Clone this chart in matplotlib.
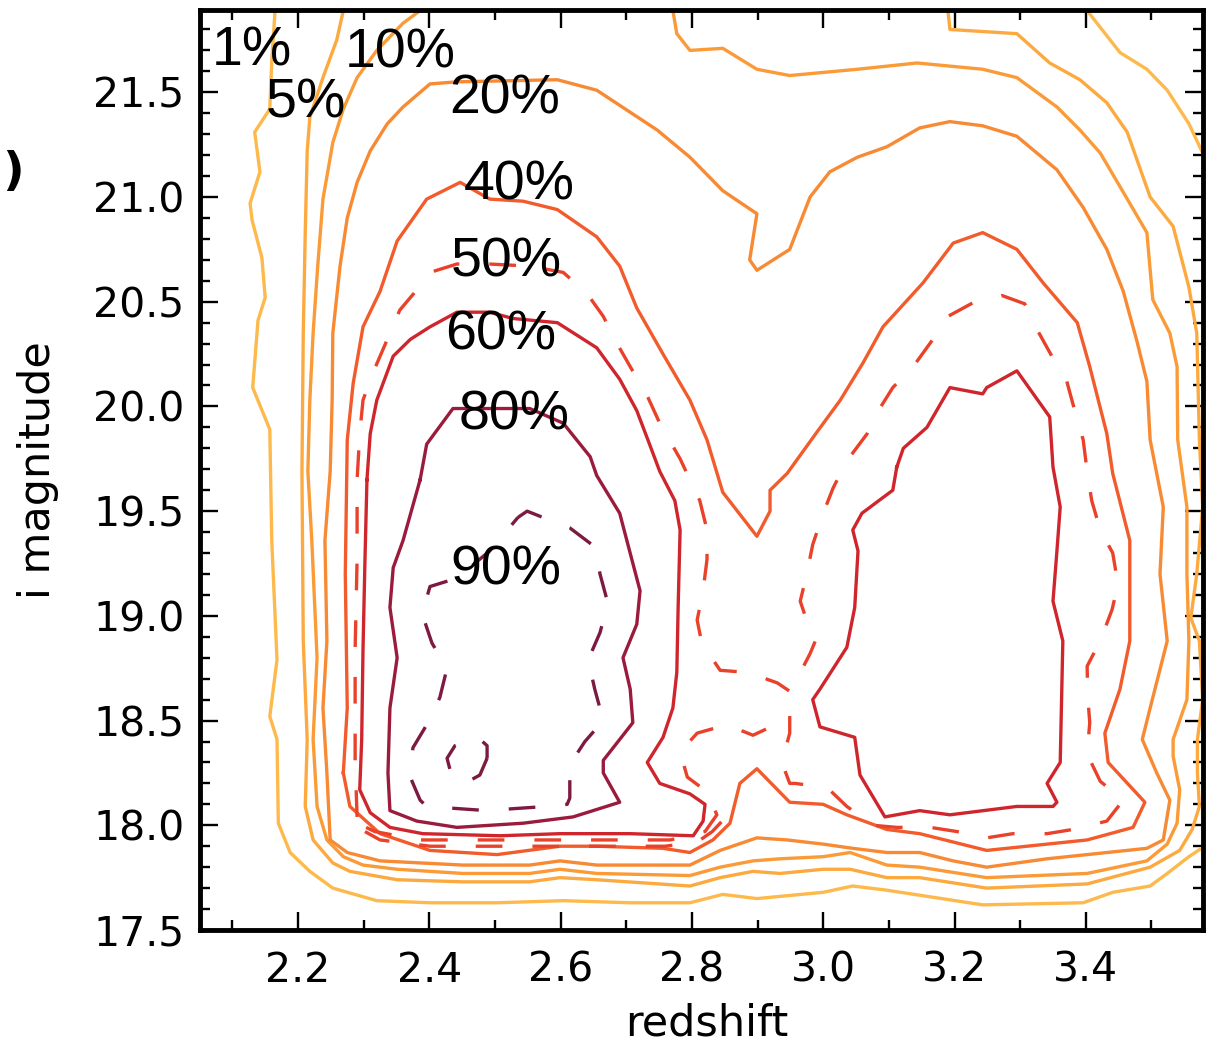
import matplotlib
matplotlib.use("Agg")
import matplotlib.pyplot as plt
from matplotlib.ticker import MultipleLocator

# completeness contours as (redshift, i magnitude) points
c01_a = [(2.165, 21.89), (2.160, 21.65), (2.157, 21.42), (2.134, 21.31), (2.142, 21.12), (2.127, 20.97),
         (2.130, 20.89), (2.145, 20.71), (2.150, 20.52), (2.139, 20.41), (2.131, 20.09), (2.157, 19.89),
         (2.160, 19.36), (2.168, 18.79), (2.157, 18.52), (2.168, 18.41), (2.170, 18.01), (2.188, 17.87),
         (2.218, 17.78), (2.253, 17.70), (2.320, 17.64), (2.401, 17.63), (2.503, 17.63), (2.604, 17.64),
         (2.706, 17.63), (2.797, 17.63), (2.847, 17.67), (2.899, 17.65), (3.000, 17.68), (3.045, 17.71),
         (3.097, 17.69), (3.243, 17.62), (3.396, 17.63), (3.441, 17.68), (3.498, 17.71), (3.524, 17.77),
         (3.557, 17.85), (3.581, 17.90)]
c01_b = [(3.402, 21.89), (3.452, 21.69), (3.493, 21.61), (3.524, 21.51), (3.557, 21.35), (3.581, 21.19)]

c05 = [(2.269, 21.89), (2.259, 21.75), (2.238, 21.57), (2.218, 21.38), (2.214, 21.22), (2.211, 20.83),
       (2.208, 20.35), (2.206, 19.69), (2.208, 18.88), (2.214, 18.41), (2.211, 18.09), (2.223, 17.93),
       (2.253, 17.82), (2.279, 17.78), (2.351, 17.74), (2.451, 17.73), (2.553, 17.73), (2.599, 17.75),
       (2.655, 17.74), (2.797, 17.71), (2.843, 17.75), (2.893, 17.78), (2.934, 17.77), (3.000, 17.79),
       (3.041, 17.79), (3.097, 17.75), (3.147, 17.75), (3.249, 17.70), (3.402, 17.72), (3.498, 17.80),
       (3.543, 17.88), (3.562, 17.98), (3.573, 18.09), (3.570, 18.25), (3.570, 18.41), (3.578, 18.60),
       (3.573, 18.88), (3.560, 18.99), (3.569, 19.20), (3.578, 19.52), (3.573, 19.84), (3.569, 20.35),
       (3.557, 20.57), (3.533, 20.86), (3.498, 21.00), (3.463, 21.31), (3.432, 21.45), (3.391, 21.56),
       (3.345, 21.64), (3.295, 21.78), (3.193, 21.80), (3.190, 21.89)]

c10 = [(2.386, 21.89), (2.360, 21.83), (2.320, 21.70), (2.290, 21.57), (2.269, 21.42), (2.253, 21.26),
       (2.238, 20.99), (2.230, 20.67), (2.223, 20.35), (2.218, 20.03), (2.215, 19.69), (2.221, 19.36),
       (2.229, 18.80), (2.223, 18.41), (2.229, 18.09), (2.244, 17.93), (2.269, 17.85), (2.299, 17.81),
       (2.351, 17.79), (2.451, 17.77), (2.553, 17.77), (2.599, 17.79), (2.655, 17.77), (2.797, 17.76),
       (2.843, 17.80), (2.893, 17.83), (2.934, 17.84), (3.000, 17.85), (3.041, 17.87), (3.097, 17.81),
       (3.147, 17.80), (3.249, 17.75), (3.402, 17.77), (3.493, 17.83), (3.524, 17.91), (3.539, 18.01),
       (3.543, 18.17), (3.533, 18.33), (3.533, 18.41), (3.554, 18.60), (3.557, 18.88), (3.554, 19.20),
       (3.554, 19.52), (3.540, 19.84), (3.539, 20.19), (3.528, 20.35), (3.502, 20.51), (3.493, 20.83),
       (3.452, 21.05), (3.422, 21.21), (3.391, 21.32), (3.356, 21.43), (3.295, 21.57), (3.243, 21.61),
       (3.143, 21.64), (3.052, 21.61), (2.949, 21.58), (2.899, 21.61), (2.847, 21.71), (2.797, 21.70),
       (2.777, 21.78), (2.771, 21.89)]

c20 = [(2.249, 17.93), (2.244, 18.25), (2.238, 18.56), (2.244, 18.88), (2.241, 19.36), (2.249, 19.69),
       (2.252, 20.03), (2.253, 20.35), (2.264, 20.67), (2.275, 20.90), (2.290, 21.07), (2.310, 21.22),
       (2.336, 21.35), (2.360, 21.43), (2.401, 21.54), (2.442, 21.55), (2.595, 21.56), (2.655, 21.51),
       (2.747, 21.32), (2.797, 21.19), (2.847, 21.03), (2.899, 20.92), (2.888, 20.70), (2.899, 20.65),
       (2.949, 20.75), (2.980, 21.00), (3.010, 21.12), (3.052, 21.19), (3.097, 21.24), (3.147, 21.33),
       (3.193, 21.36), (3.243, 21.34), (3.295, 21.29), (3.356, 21.13), (3.396, 20.95), (3.432, 20.75),
       (3.457, 20.55), (3.478, 20.31), (3.493, 20.12), (3.498, 19.84), (3.518, 19.52), (3.513, 19.20),
       (3.524, 18.88), (3.498, 18.56), (3.486, 18.41), (3.508, 18.25), (3.528, 18.12), (3.518, 17.93),
       (3.493, 17.89), (3.402, 17.86), (3.341, 17.84), (3.249, 17.80), (3.198, 17.83), (3.147, 17.87),
       (3.097, 17.87), (3.045, 17.89), (3.000, 17.91), (2.945, 17.93), (2.899, 17.94), (2.843, 17.88),
       (2.797, 17.81), (2.655, 17.81), (2.599, 17.83), (2.553, 17.81), (2.451, 17.81), (2.325, 17.83),
       (2.275, 17.87), (2.249, 17.93)]

c40 = [(2.269, 18.25), (2.275, 18.56), (2.272, 19.20), (2.275, 19.84), (2.284, 20.11), (2.299, 20.38),
       (2.325, 20.55), (2.351, 20.79), (2.396, 20.99), (2.447, 21.07), (2.492, 20.99), (2.543, 20.98),
       (2.595, 20.94), (2.655, 20.81), (2.690, 20.67), (2.716, 20.47), (2.756, 20.25), (2.797, 20.03),
       (2.823, 19.84), (2.847, 19.59), (2.899, 19.38), (2.919, 19.50), (2.919, 19.60), (2.945, 19.68),
       (2.991, 19.88), (3.026, 20.03), (3.061, 20.21), (3.091, 20.38), (3.152, 20.59), (3.198, 20.78),
       (3.243, 20.83), (3.295, 20.75), (3.335, 20.59), (3.387, 20.40), (3.406, 20.19), (3.432, 19.87),
       (3.441, 19.68), (3.467, 19.36), (3.467, 18.88), (3.452, 18.65), (3.429, 18.44), (3.434, 18.30),
       (3.490, 18.11), (3.472, 17.99), (3.402, 17.93), (3.249, 17.88), (3.147, 17.96), (3.097, 17.98),
       (3.036, 18.05), (3.000, 18.10), (2.949, 18.11), (2.899, 18.27), (2.873, 18.20), (2.858, 18.01),
       (2.832, 17.93), (2.797, 17.87), (2.756, 17.89), (2.655, 17.90), (2.599, 17.90), (2.503, 17.86),
       (2.401, 17.88), (2.325, 17.96), (2.279, 18.09), (2.269, 18.25)]

c50_a = [(2.290, 18.04), (2.287, 18.31), (2.287, 18.84), (2.290, 19.27), (2.290, 19.65), (2.294, 19.87),
         (2.299, 20.03), (2.314, 20.16), (2.336, 20.32), (2.355, 20.46), (2.390, 20.59), (2.401, 20.64),
         (2.442, 20.68), (2.492, 20.68), (2.553, 20.67), (2.604, 20.64), (2.640, 20.54), (2.665, 20.43),
         (2.686, 20.30), (2.706, 20.19), (2.732, 20.05), (2.751, 19.92), (2.782, 19.75), (2.812, 19.55),
         (2.823, 19.41), (2.823, 19.27), (2.817, 19.12), (2.808, 18.98), (2.815, 18.87), (2.843, 18.74),
         (2.885, 18.73), (2.930, 18.68), (2.949, 18.64), (2.957, 18.68), (2.980, 18.82), (2.988, 18.88),
         (2.980, 18.93), (2.965, 19.07), (2.975, 19.20), (2.984, 19.34), (3.000, 19.49), (3.015, 19.61),
         (3.036, 19.74), (3.067, 19.87), (3.082, 19.97), (3.106, 20.09), (3.137, 20.19), (3.167, 20.32),
         (3.190, 20.43), (3.231, 20.50), (3.272, 20.53), (3.307, 20.49), (3.327, 20.36), (3.350, 20.23),
         (3.371, 20.12), (3.384, 19.97), (3.396, 19.84), (3.402, 19.69), (3.409, 19.55), (3.422, 19.41),
         (3.441, 19.30), (3.449, 19.15), (3.440, 19.03), (3.422, 18.88), (3.402, 18.76), (3.403, 18.61),
         (3.406, 18.49), (3.402, 18.34), (3.422, 18.21), (3.457, 18.12), (3.432, 18.02), (3.380, 17.98),
         (3.341, 17.96), (3.289, 17.96), (3.249, 17.94), (3.204, 17.97), (3.163, 17.99), (3.112, 17.99),
         (3.076, 18.00), (3.036, 18.09), (3.006, 18.18), (2.957, 18.20), (2.949, 18.20), (2.937, 18.30),
         (2.949, 18.44), (2.949, 18.53), (2.934, 18.49), (2.893, 18.43), (2.853, 18.48), (2.808, 18.44),
         (2.782, 18.35), (2.793, 18.23), (2.823, 18.16), (2.838, 18.05), (2.820, 17.97), (2.767, 17.93),
         (2.660, 17.93), (2.508, 17.93), (2.386, 17.93), (2.317, 17.97), (2.297, 18.00), (2.290, 18.04)]
c50_b = [(2.302, 17.97), (2.325, 17.93), (2.401, 17.90), (2.508, 17.90), (2.660, 17.90), (2.759, 17.90),
         (2.808, 17.92), (2.831, 17.97), (2.846, 18.02)]

c60_left = [(2.305, 19.65), (2.310, 19.87), (2.320, 20.03), (2.345, 20.24), (2.371, 20.32), (2.401, 20.38),
            (2.442, 20.45), (2.492, 20.45), (2.527, 20.42), (2.595, 20.40), (2.655, 20.28), (2.690, 20.13),
            (2.716, 19.98), (2.733, 19.84), (2.751, 19.69), (2.774, 19.55), (2.782, 19.41), (2.779, 19.04),
            (2.777, 18.73), (2.771, 18.56), (2.756, 18.42), (2.732, 18.30), (2.751, 18.20), (2.797, 18.15),
            (2.820, 18.10), (2.817, 18.02), (2.802, 17.95), (2.706, 17.96), (2.599, 17.96), (2.508, 17.95),
            (2.390, 17.96), (2.340, 17.99), (2.310, 18.06), (2.294, 18.17), (2.297, 18.41), (2.299, 18.84),
            (2.302, 19.27), (2.305, 19.65)]
c60_right = [(3.112, 19.71), (3.122, 19.80), (3.158, 19.90), (3.193, 20.09), (3.243, 20.06), (3.249, 20.09),
             (3.295, 20.17), (3.345, 19.95), (3.350, 19.71), (3.361, 19.52), (3.356, 19.31), (3.350, 19.07),
             (3.365, 18.88), (3.361, 18.30), (3.341, 18.20), (3.356, 18.11), (3.350, 18.09), (3.295, 18.09),
             (3.193, 18.05), (3.147, 18.07), (3.094, 18.04), (3.056, 18.24), (3.048, 18.42), (2.995, 18.47),
             (2.984, 18.60), (2.995, 18.65), (3.036, 18.85), (3.048, 19.04), (3.053, 19.31), (3.045, 19.41),
             (3.059, 19.49), (3.106, 19.60), (3.112, 19.71)]

c80 = [(2.386, 19.65), (2.396, 19.82), (2.436, 19.99), (2.492, 19.99), (2.553, 19.99), (2.604, 19.92),
       (2.645, 19.76), (2.655, 19.67), (2.690, 19.49), (2.721, 19.12), (2.716, 18.96), (2.695, 18.80),
       (2.706, 18.65), (2.710, 18.49), (2.665, 18.31), (2.665, 18.25), (2.690, 18.11), (2.619, 18.04),
       (2.543, 18.01), (2.442, 17.99), (2.381, 18.02), (2.340, 18.07), (2.337, 18.25), (2.340, 18.56),
       (2.351, 18.80), (2.340, 19.04), (2.345, 19.23), (2.360, 19.36), (2.386, 19.65)]

c90_outer = [(2.535, 19.47), (2.549, 19.50), (2.573, 19.47), (2.614, 19.42), (2.652, 19.33), (2.660, 19.20),
             (2.672, 19.06), (2.660, 18.92), (2.642, 18.79), (2.652, 18.65), (2.665, 18.50), (2.637, 18.40),
             (2.614, 18.29), (2.614, 18.13), (2.610, 18.10), (2.579, 18.09), (2.531, 18.08), (2.488, 18.07),
             (2.442, 18.08), (2.396, 18.09), (2.386, 18.12), (2.371, 18.23), (2.375, 18.37), (2.398, 18.49),
             (2.416, 18.61), (2.427, 18.75), (2.404, 18.87), (2.389, 19.01), (2.401, 19.14), (2.442, 19.18),
             (2.492, 19.31), (2.535, 19.47)]
c90_inner = [(2.488, 18.32), (2.477, 18.24), (2.454, 18.20), (2.432, 18.26), (2.427, 18.32), (2.439, 18.38),
             (2.474, 18.42), (2.488, 18.38), (2.488, 18.32)]

label_text = ["1%", "5%", "10%", "20%", "40%", "50%", "60%", "80%", "90%"]
label_x = [2.130, 2.212, 2.355, 2.515, 2.537, 2.517, 2.509, 2.529, 2.517]
label_y = [21.63, 21.38, 21.62, 21.40, 20.99, 20.62, 20.27, 19.89, 19.15]

x_ticks = [2.2, 2.4, 2.6, 2.8, 3.0, 3.2, 3.4]
y_ticks = [17.5, 18.0, 18.5, 19.0, 19.5, 20.0, 20.5, 21.0, 21.5]

# level -> (paths, colour, dashed)
levels = [
    ([c01_a, c01_b], "#fdb94b", False),
    ([c05], "#fcaa40", False),
    ([c10], "#fa9b38", False),
    ([c20], "#f78a33", False),
    ([c40], "#f25b2b", False),
    ([c50_a, c50_b], "#e9412a", True),
    ([c60_left, c60_right], "#cf262d", False),
    ([c80], "#9b1b3c", False),
    ([c90_outer, c90_inner], "#7d1a42", True),
]

plt.rcParams["font.family"] = ["DejaVu Sans"]

fig = plt.figure(figsize=(12.17, 10.44), dpi=100)
ax = fig.add_axes([200 / 1217, 114 / 1044, 1003 / 1217, 920 / 1044])

for paths, colour, dashed in levels:
    for pts in paths:
        xs = [p[0] for p in pts]
        ys = [p[1] for p in pts]
        ls = (0, (8.0, 9.0)) if dashed else "-"
        ax.plot(xs, ys, color=colour, lw=2.4, ls=ls)

for t, x, y in zip(label_text, label_x, label_y):
    ax.text(x, y, t, ha="center", va="baseline", fontsize=40,
            family=["Liberation Sans", "DejaVu Sans"], color="black")

ax.set_xlim(2.0507, 3.5785)
ax.set_ylim(17.5, 21.893)
ax.set_xticks(x_ticks)
ax.set_yticks(y_ticks)
ax.xaxis.set_minor_locator(MultipleLocator(0.1))
ax.yaxis.set_minor_locator(MultipleLocator(0.1))
ax.tick_params(which="both", direction="in", top=True, right=True, width=1.7)
ax.tick_params(which="major", length=13, labelsize=29.5)
ax.tick_params(axis="x", which="major", pad=15)
ax.tick_params(axis="y", which="major", pad=11)
ax.tick_params(which="minor", length=7)
for s in ax.spines.values():
    s.set_linewidth(3.5)

ax.set_xlabel("redshift", fontsize=31)
ax.set_ylabel("i magnitude", fontsize=31)
ax.xaxis.set_label_coords(0.505, -0.079)
ax.yaxis.set_label_coords(-0.141, 0.5)

# panel mark at the left edge
fig.text(2 / 1217, 1 - 172 / 1044, ")", ha="left", va="center", fontsize=34, fontweight="bold")

fig.savefig("out.png", dpi=100)
